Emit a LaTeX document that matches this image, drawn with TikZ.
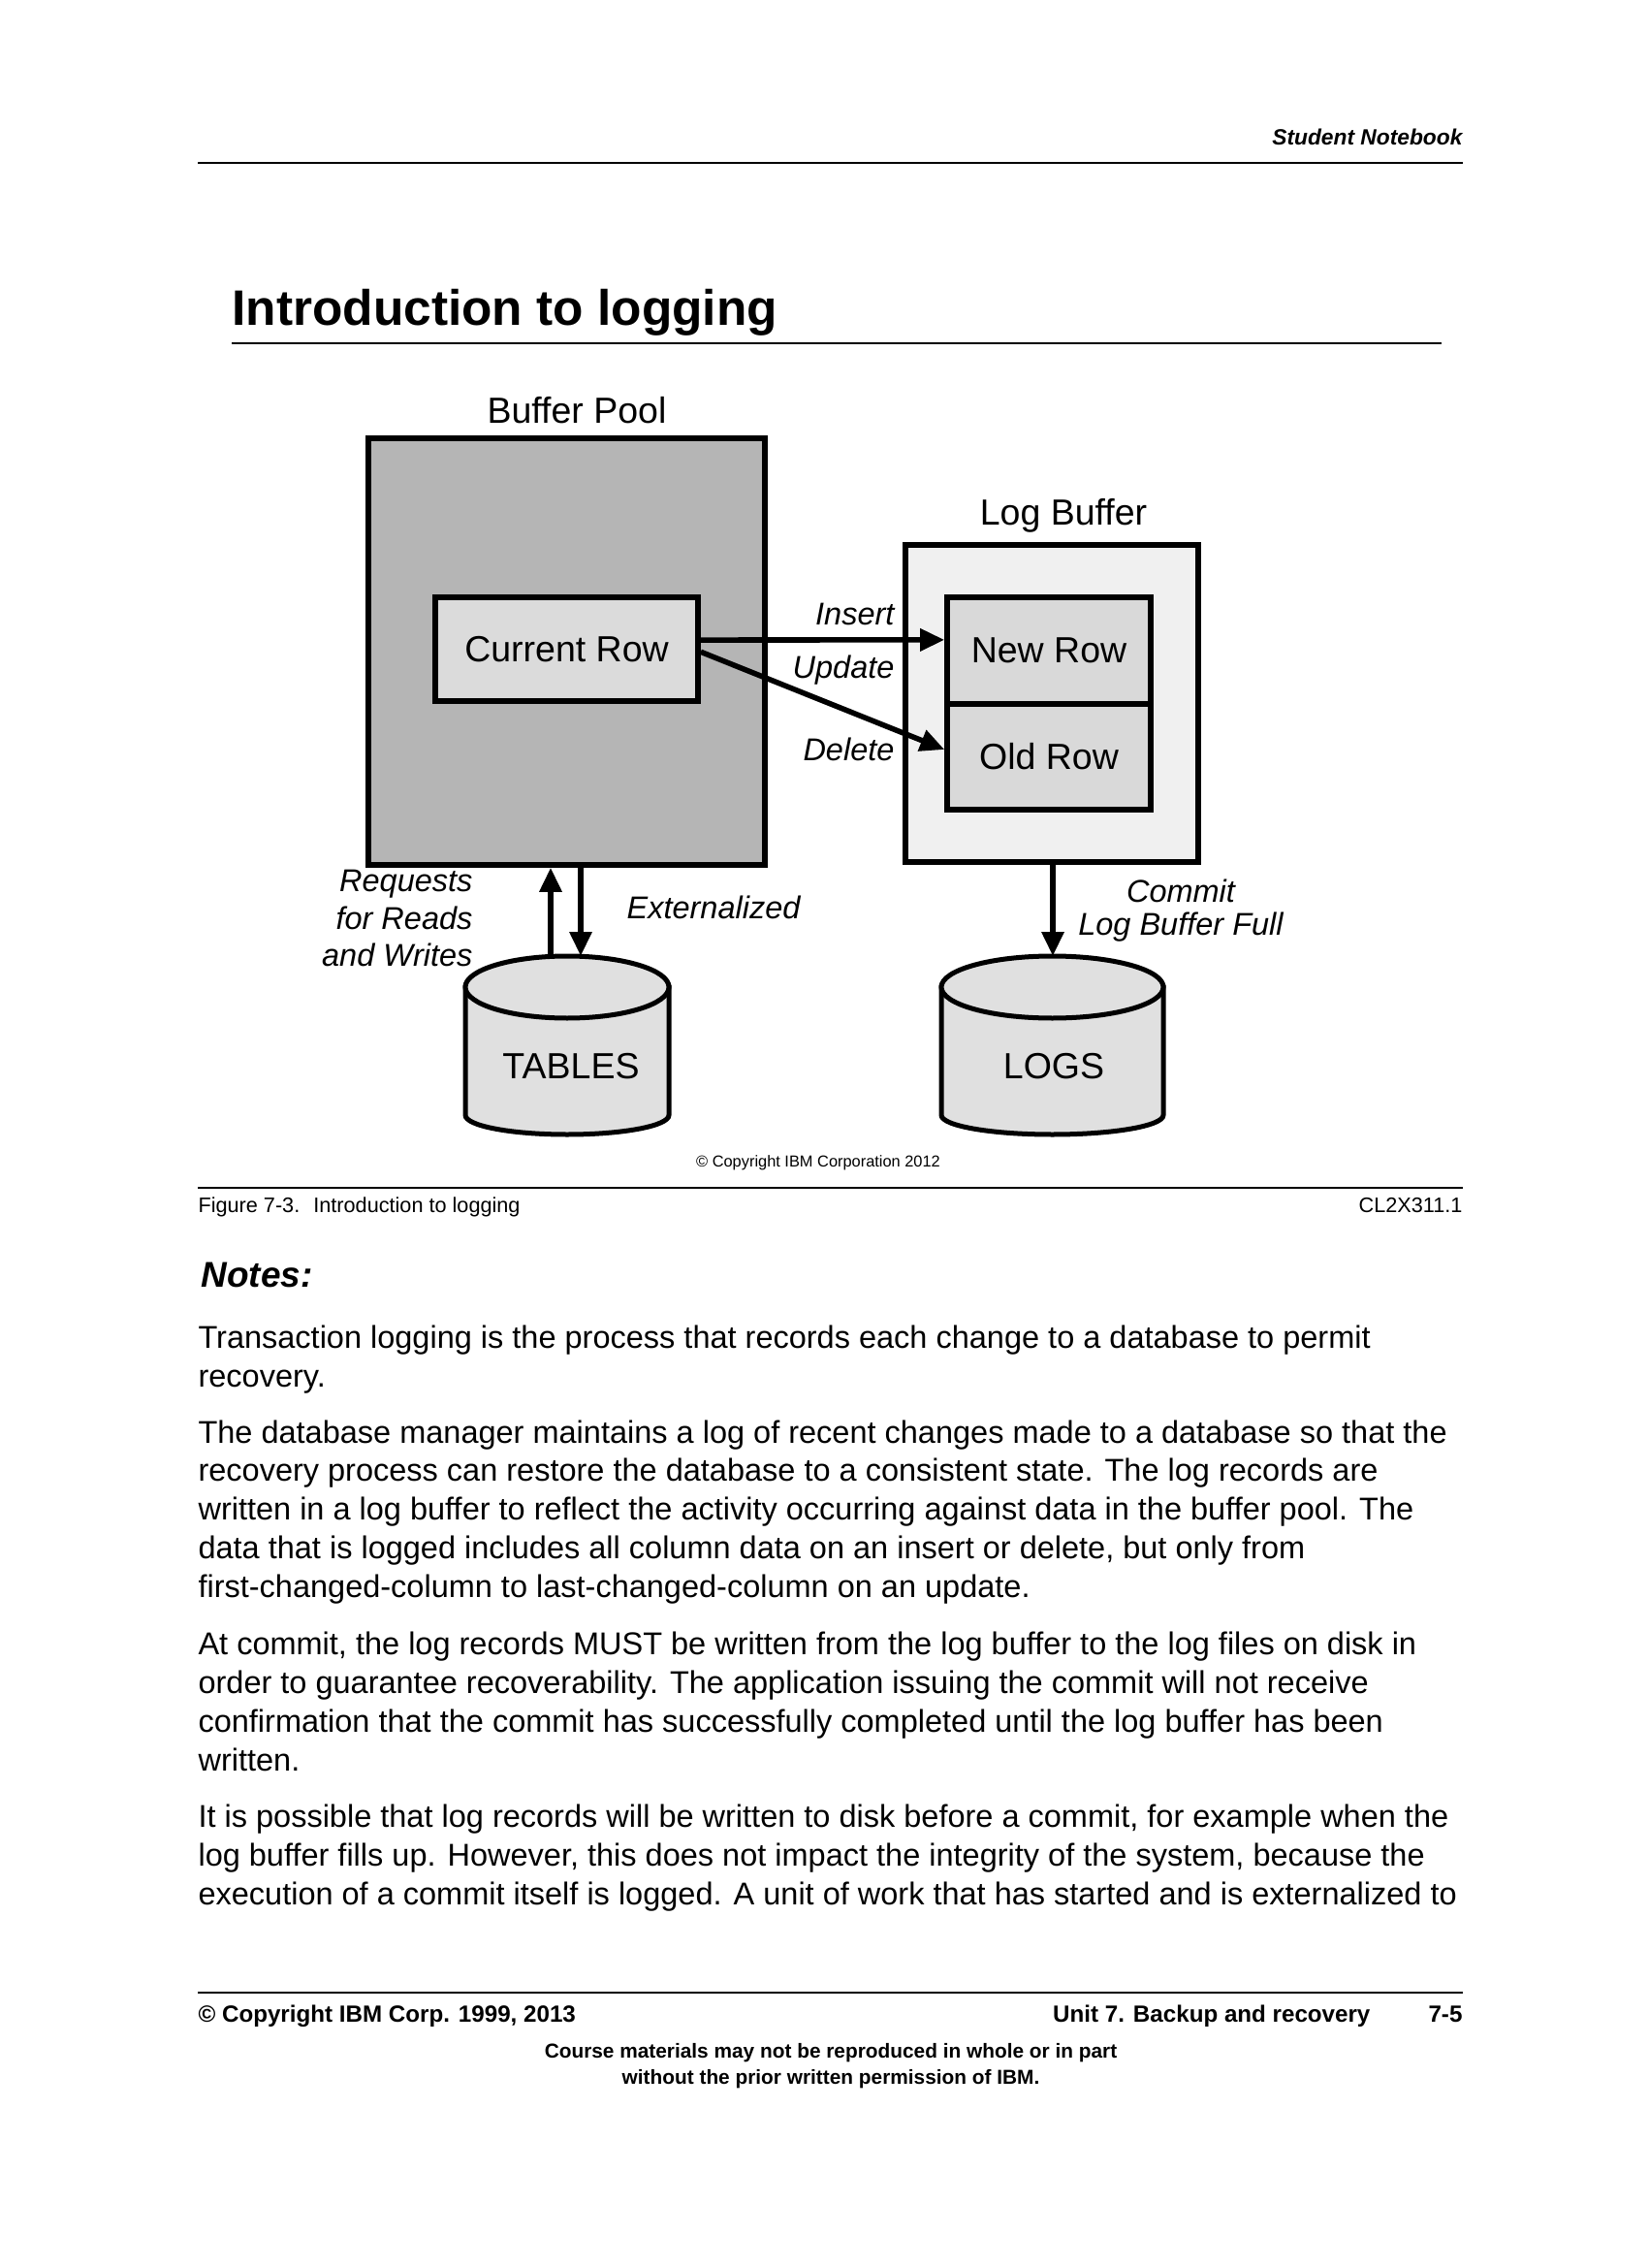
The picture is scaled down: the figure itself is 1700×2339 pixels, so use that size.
\documentclass[tikz,border=0pt]{standalone}
\usepackage{fontspec}
\setmainfont{Liberation Sans}
\usetikzlibrary{arrows.meta}

\begin{document}
\begin{tikzpicture}[x=0.36bp, y=-0.36bp,
	thickbox/.style={draw, line width=2bp, inner sep=0pt},
	arr/.style={line width=2bp, -{Triangle[length=9bp, width=8bp]}},
	cyl/.style={draw, line width=1.8bp, fill=black!12},
	lbl/.style={inner sep=0pt, font=\fontsize{11.7bp}{14bp}\selectfont\itshape},
	big/.style={font=\fontsize{13.5bp}{16bp}\selectfont},
	para/.style={anchor=base west, align=left, inner sep=0pt, font=\fontsize{11.7bp}{14.3bp}\selectfont},
	foot/.style={inner sep=0pt, font=\fontsize{8.7bp}{10bp}\selectfont\bfseries},
	rule/.style={line width=0.7bp}]
	\useasboundingbox[fill=white] (0,0) rectangle (1700,2339);
	%
	%header
	\node[anchor=base east, inner sep=0pt, font=\fontsize{8.2bp}{10bp}\selectfont\bfseries\itshape] (notebook) at (1509,150) {Student Notebook};
	\draw[rule] (204,168) -- (1509,168);
	\node[anchor=base west, inner sep=0pt, font=\fontsize{18.5bp}{22bp}\selectfont\bfseries] (title) at (239,336) {Introduction to logging};
	\draw[line width=1bp] (239,354) -- (1487,354);
	%
	%buffer pool
	\node[big] (poollabel) at (595,423) {Buffer Pool};
	\node[thickbox, fill=black!29, minimum width=147.2bp, minimum height=158.4bp] (pool) at (584.5,672) {};
	\node[thickbox, fill=black!14, minimum width=97.6bp, minimum height=38.5bp, big] (cur) at (584.5,669.5) {Current Row};
	%log buffer
	\node[big] (loglabel) at (1097,532) {Log Buffer};
	\node[thickbox, fill=black!6, minimum width=108.7bp, minimum height=117.7bp] (logbuf) at (1085,725.5) {};
	\node[thickbox, fill=black!15, minimum width=75.6bp, minimum height=39.6bp, big] (newrow) at (1082,671) {New Row};
	\node[thickbox, fill=black!15, minimum width=75.6bp, minimum height=39.2bp, big] (oldrow) at (1082,780.5) {Old Row};
	%
	%row arrows
	\draw[arr] ([yshift=3.4bp]cur.east) -- ([yshift=4bp]newrow.west);
	\draw[arr] ([yshift=-1bp]cur.east) -- ([yshift=2.7bp]oldrow.west);
	\node[lbl, anchor=base east] (ins) at (923,645) {Insert};
	\node[lbl, anchor=base east] (upd) at (923,700) {Update};
	\node[lbl, anchor=base east] (del) at (923,785) {Delete};
	%
	%tables
	\draw[cyl] (480,1018) -- (480,1150) arc[start angle=180, end angle=0, x radius=105, y radius=20] -- (690,1018) -- cycle;
	\draw[cyl] (585,1018) ellipse[x radius=105, y radius=32];
	\node[big] (tables) at (589,1100) {TABLES};
	\coordinate (tabup) at (568,987);
	\coordinate (tabdown) at (599,986);
	\draw[arr] (tabup) -- (tabup |- pool.south);
	\draw[arr] (tabdown |- pool.south) -- (tabdown);
	\node[lbl, align=right, anchor=east] (req) at (488,947) {Requests\\for Reads\\and Writes};
	\node[lbl] (ext) at (736,936) {Externalized};
	%logs
	\draw[cyl] (971,1018) -- (971,1150) arc[start angle=180, end angle=0, x radius=114.5, y radius=20] -- (1200,1018) -- cycle;
	\draw[cyl] (1085.5,1018) ellipse[x radius=114.5, y radius=32];
	\node[big] (logs) at (1087,1100) {LOGS};
	\coordinate (logtop) at (1086,986);
	\draw[arr] (logbuf.south -| logtop) -- (logtop);
	\node[lbl, align=center, font=\fontsize{11.7bp}{12.4bp}\selectfont\itshape] (commit) at (1218,939) {Commit\\Log Buffer Full};
	%
	%caption
	\node[font=\fontsize{5.9bp}{7bp}\selectfont] (copy) at (844,1199) {© Copyright IBM Corporation 2012};
	\draw[rule] (204,1225) -- (1509,1225);
	\node[anchor=base west, inner sep=0pt, font=\fontsize{7.8bp}{9bp}\selectfont] (fig) at (204,1250) {Figure 7-3.~ Introduction to logging};
	\node[anchor=base east, inner sep=0pt, font=\fontsize{7.8bp}{9bp}\selectfont] (code) at (1509,1250) {CL2X311.1};
	%
	%notes (base = last line)
	\node[anchor=base west, inner sep=0pt, font=\fontsize{13.3bp}{16bp}\selectfont\bfseries\itshape] (notes) at (207,1327) {Notes:};
	\node[para] (p1) at (204,1430) {Transaction logging is the process that records each change to a database to permit\\recovery.};
	\node[para] (p2) at (204,1647) {The database manager maintains a log of recent changes made to a database so that the\\recovery process can restore the database to a consistent state. The log records are\\written in a log buffer to reflect the activity occurring against data in the buffer pool. The\\data that is logged includes all column data on an insert or delete, but only from\\first-changed-column to last-changed-column on an update.};
	\node[para] (p3) at (204,1826) {At commit, the log records MUST be written from the log buffer to the log files on disk in\\order to guarantee recoverability. The application issuing the commit will not receive\\confirmation that the commit has successfully completed until the log buffer has been\\written.};
	\node[para] (p4) at (204,1964) {It is possible that log records will be written to disk before a commit, for example when the\\log buffer fills up. However, this does not impact the integrity of the system, because the\\execution of a commit itself is logged. A unit of work that has started and is externalized to};
	%
	%footer
	\draw[rule] (204,2055) -- (1509,2055);
	\node[foot, anchor=base west] (corp) at (204,2085) {© Copyright IBM Corp. 1999, 2013};
	\node[foot, anchor=base east] (unit) at (1414,2085) {Unit 7. Backup and recovery};
	\node[foot, anchor=base east] (page) at (1509,2085) {7-5};
	\node[foot, align=center, anchor=base, font=\fontsize{7.5bp}{9.7bp}\selectfont\bfseries] (course) at (857,2149) {Course materials may not be reproduced in whole or in part\\without the prior written permission of IBM.};
\end{tikzpicture}
\end{document}
